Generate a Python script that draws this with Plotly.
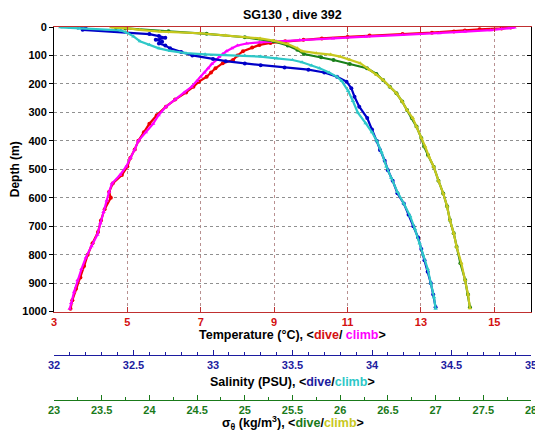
import plotly.graph_objects as go

# ---------------- data ----------------
temp_dive_depth = [2, 5, 8, 12, 16, 20, 25, 30, 35, 40, 45, 50, 56, 63, 72, 85, 100, 116, 127, 145, 160, 175,
                   192, 210, 230, 255, 280, 310, 340, 370, 400, 430, 460, 490, 520, 550, 580, 600, 640, 680,
                   720, 760, 800, 840, 880, 920, 960, 990]
temp_dive = [15.45, 15.2, 14.6, 14.2, 13.9, 13.3, 12.5, 11.6, 11.0, 10.3, 9.8, 9.3, 8.9, 8.6, 8.4, 8.15, 8.0,
             7.88, 7.6, 7.4, 7.28, 7.16, 6.95, 6.8, 6.6, 6.3, 6.05, 5.8, 5.6, 5.45, 5.3, 5.2, 5.08, 5.0, 4.85,
             4.6, 4.5, 4.55, 4.38, 4.28, 4.2, 4.05, 3.92, 3.82, 3.72, 3.6, 3.5, 3.45]

temp_climb_depth = [0, 2, 4, 7, 11, 16, 22, 28, 34, 40, 46, 50, 54, 58, 65, 75, 85, 95, 105, 116, 130, 145,
                    160, 175, 190, 210, 230, 255, 280, 310, 340, 370, 400, 430, 460, 490, 520, 550, 580, 610,
                    650, 690, 730, 770, 810, 850, 890, 930, 970, 990]
temp_climb = [15.5, 15.55, 15.4, 15.2, 14.9, 14.2, 13.5, 12.5, 11.5, 10.6, 9.7, 9.05, 8.6, 8.25, 8.0, 7.85,
              7.7, 7.6, 7.5, 7.43, 7.3, 7.2, 7.1, 7.0, 6.9, 6.75, 6.55, 6.3, 6.05, 5.85, 5.7, 5.5, 5.3, 5.2,
              5.08, 4.97, 4.8, 4.58, 4.5, 4.44, 4.35, 4.26, 4.18, 4.02, 3.87, 3.75, 3.64, 3.55, 3.47, 3.43]

sal_dive_depth = [2, 6, 10, 25, 32, 38, 45, 52, 58, 65, 75, 88, 100, 112, 120, 128, 134, 142, 150, 160, 175,
                  192, 215, 245, 280, 320, 360, 400, 432, 470, 503, 540, 584, 620, 660, 700, 740, 780, 820,
                  860, 900, 940, 985]
sal_dive = [32.15, 32.2, 32.18, 32.6, 32.66, 32.7, 32.64, 32.68, 32.66, 32.7, 32.73, 32.8, 32.87, 33.0, 33.08,
            33.2, 33.3, 33.45, 33.6, 33.7, 33.78, 33.84, 33.87, 33.89, 33.92, 33.97, 34.0, 34.03, 34.05, 34.08,
            34.1, 34.13, 34.16, 34.2, 34.23, 34.26, 34.29, 34.31, 34.33, 34.35, 34.37, 34.385, 34.4]

sal_climb_depth = [1, 3, 5, 12, 20, 33, 50, 62, 75, 84, 92, 96, 98, 100, 104, 110, 116, 124, 135, 145, 160,
                   175, 190, 225, 260, 300, 338, 370, 400, 440, 490, 530, 580, 620, 665, 710, 760, 800, 850,
                   900, 950, 990]
sal_climb = [32.04, 32.1, 32.16, 32.42, 32.46, 32.5, 32.54, 32.6, 32.66, 32.73, 32.83, 32.95, 33.08, 33.2,
             33.3, 33.4, 33.5, 33.56, 33.62, 33.67, 33.73, 33.78, 33.81, 33.85, 33.88, 33.91, 33.96, 34.0,
             34.03, 34.06, 34.09, 34.12, 34.16, 34.2, 34.24, 34.27, 34.3, 34.32, 34.35, 34.37, 34.39, 34.4]

sig_dive_depth = [2, 5, 15, 24, 36, 50, 65, 80, 95, 106, 116, 130, 145, 165, 186, 210, 233, 262, 292, 320,
                  350, 390, 420, 450, 491, 540, 585, 630, 678, 725, 772, 830, 889, 940, 985]
sig_dive = [23.65, 23.75, 24.2, 24.6, 25.0, 25.3, 25.45, 25.55, 25.62, 25.8, 25.93, 26.1, 26.28, 26.38, 26.45,
            26.52, 26.59, 26.65, 26.7, 26.75, 26.8, 26.85, 26.88, 26.92, 26.98, 27.03, 27.08, 27.12, 27.15,
            27.19, 27.22, 27.26, 27.31, 27.34, 27.36]

sig_climb_depth = [1, 3, 5, 10, 16, 22, 30, 40, 48, 60, 75, 85, 92, 97, 104, 115, 127, 151, 168, 186, 210,
                   233, 262, 292, 320, 350, 390, 420, 455, 491, 540, 585, 630, 678, 725, 772, 830, 889, 940, 988]
sig_climb = [23.6, 23.7, 23.78, 23.9, 24.11, 24.53, 24.8, 25.16, 25.3, 25.45, 25.55, 25.6, 25.75, 25.9, 26.0,
             26.1, 26.21, 26.31, 26.38, 26.45, 26.52, 26.59, 26.65, 26.7, 26.76, 26.8, 26.85, 26.89, 26.93,
             26.98, 27.03, 27.08, 27.12, 27.15, 27.19, 27.22, 27.27, 27.31, 27.34, 27.36]

depth_ticks = [0, 100, 200, 300, 400, 500, 600, 700, 800, 900, 1000]

# ---------------- styling ----------------
FONT = "Liberation Sans, Arial, Helvetica, sans-serif"
RED, MAG = "#ee0000", "#ff00ff"
BLUE, CYAN = "#0000c8", "#2ec8c8"
GREEN, YEL = "#1a801a", "#c8c81e"
TCOL, SCOL, GCOL = "#d41010", "#1c1ca0", "#1a7a1a"

fig = go.Figure()


def add(x, y, color, sym, xa):
    fig.add_trace(go.Scatter(x=x, y=y, xaxis=xa, yaxis="y", mode="lines+markers",
                             line=dict(color=color, width=2.2),
                             marker=dict(color=color, size=4, symbol=sym),
                             showlegend=False, hoverinfo="skip"))


add(temp_dive, temp_dive_depth, RED, "circle", "x")
add(temp_climb, temp_climb_depth, MAG, "triangle-up", "x")
add(sal_dive, sal_dive_depth, BLUE, "circle", "x2")
add(sal_climb, sal_climb_depth, CYAN, "triangle-up", "x2")
add(sig_dive, sig_dive_depth, GREEN, "circle", "x3")
add(sig_climb, sig_climb_depth, YEL, "triangle-up", "x3")
# right-side (inside) depth ticks
fig.add_trace(go.Scatter(x=[None], y=[None], xaxis="x", yaxis="y2", showlegend=False, hoverinfo="skip"))

main_bottom = 0.237
sal_pos = 0.1206
TICKF = 11

# the page places the figure 8px from the top-left corner, so the figure is 8px smaller
fig.update_layout(
    width=535, height=434,
    margin=dict(l=46, r=12, t=19, b=42, autoexpand=False),
    paper_bgcolor="white", plot_bgcolor="white",
    font=dict(family=FONT, size=11, color="black"),
    showlegend=False,
    xaxis=dict(range=[3, 16], tick0=3, dtick=2, domain=[0, 1], anchor="y", automargin=False,
               showline=True, linecolor="#c03030", linewidth=1, mirror="ticks",
               ticks="inside", ticklen=5, tickcolor="#c03030",
               tickfont=dict(family=FONT, size=TICKF, color=TCOL, weight="bold"),
               showgrid=True, gridcolor="#b89090", griddash="dot", gridwidth=1,
               zeroline=False),
    xaxis2=dict(range=[32, 35], tick0=32, dtick=0.5, overlaying="x", anchor="free", position=sal_pos,
                automargin=False,
                showline=True, linecolor=SCOL, linewidth=1,
                ticks="inside", ticklen=5, tickcolor=SCOL,
                minor=dict(dtick=0.1, ticks="inside", ticklen=3, tickcolor=SCOL, showgrid=False),
                tickfont=dict(family=FONT, size=TICKF, color=SCOL, weight="bold"),
                showgrid=False, zeroline=False),
    xaxis3=dict(range=[23, 28], tick0=23, dtick=0.5, overlaying="x", anchor="free", position=0,
                automargin=False,
                showline=True, linecolor=GCOL, linewidth=1,
                ticks="inside", ticklen=5, tickcolor=GCOL,
                minor=dict(dtick=0.25, ticks="inside", ticklen=3, tickcolor=GCOL, showgrid=False),
                tickfont=dict(family=FONT, size=TICKF, color=GCOL, weight="bold"),
                showgrid=False, zeroline=False),
    yaxis=dict(range=[1000, 0], domain=[main_bottom, 1], anchor="x", automargin=False,
               tickvals=depth_ticks,
               showline=True, linecolor="black", linewidth=1, mirror=True,
               ticks="outside", ticklen=4, tickcolor="black",
               tickfont=dict(family=FONT, size=TICKF, color="black", weight="bold"),
               showgrid=True, gridcolor="#909090", griddash="dot", gridwidth=1,
               zeroline=False,
               title=dict(text="Depth (m)", standoff=8,
                          font=dict(family=FONT, size=12, color="black", weight="bold"))),
    yaxis2=dict(range=[1000, 0], domain=[main_bottom, 1], overlaying="y", side="right", anchor="x",
                automargin=False,
                tickvals=depth_ticks, ticks="inside", ticklen=4, tickcolor="black",
                showticklabels=False, showgrid=False, showline=False, zeroline=False),
)

ann_font = dict(family=FONT, size=12.5, color="black", weight="bold")
fig.add_annotation(text="SG130 , dive 392", xref="paper", yref="paper", x=0.5, y=1.0, yshift=12,
                   xanchor="center", yanchor="middle", showarrow=False,
                   font=dict(family=FONT, size=12.5, color="black", weight="bold"))
fig.add_annotation(text="Temperature (°C), &lt;<span style='color:%s'>dive</span>/ "
                        "<span style='color:%s'>climb</span>&gt;" % (TCOL, MAG),
                   xref="paper", yref="paper", x=0.5, y=0.174, xanchor="center", yanchor="middle",
                   showarrow=False, font=ann_font)
fig.add_annotation(text="Salinity (PSU), &lt;<span style='color:%s'>dive</span>/"
                        "<span style='color:%s'>climb</span>&gt;" % (SCOL, CYAN),
                   xref="paper", yref="paper", x=0.5, y=0.048, xanchor="center", yanchor="middle",
                   showarrow=False, font=ann_font)
fig.add_annotation(text="σ<sub>θ</sub> (kg/m<sup>3</sup>), &lt;<span style='color:%s'>dive</span>/"
                        "<span style='color:%s'>climb</span>&gt;" % (GCOL, YEL),
                   xref="paper", yref="paper", x=0.5, y=-0.062, xanchor="center", yanchor="middle",
                   showarrow=False, font=ann_font)

fig.write_html("out.html")
